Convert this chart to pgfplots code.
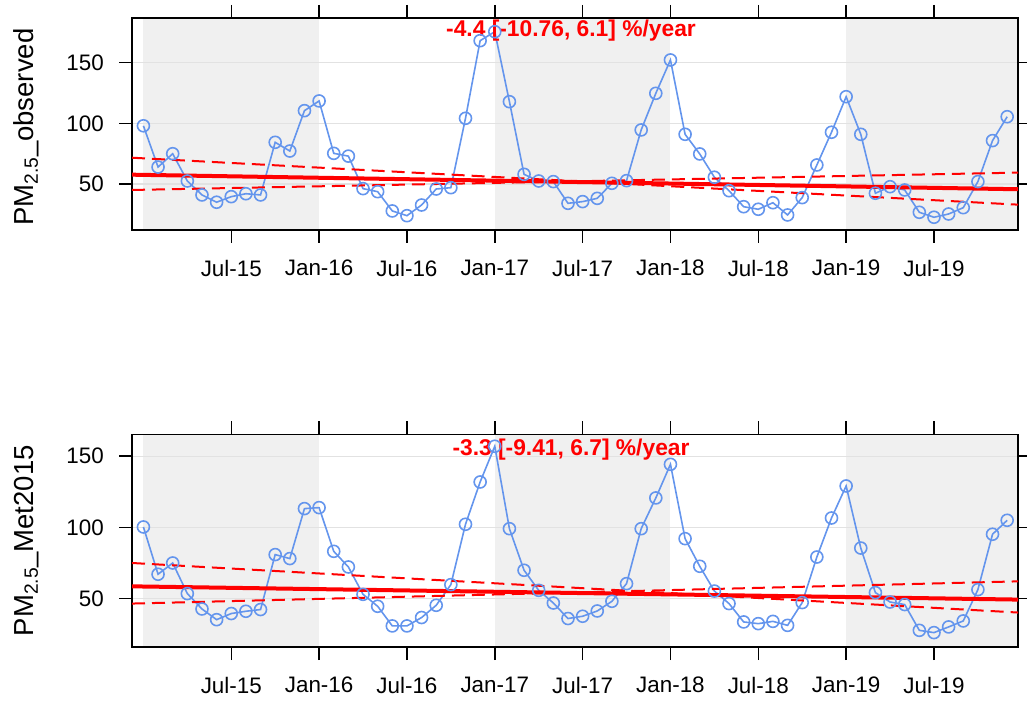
\documentclass[border=0pt]{standalone}
\usepackage{fontspec}
\setmainfont{Liberation Sans}
\usepackage{pgfplots}
\usepackage{pgfplotstable}
\pgfplotsset{compat=1.18}
\definecolor{obs}{HTML}{6495ED}
\definecolor{shade}{RGB}{240,240,240}
\definecolor{gridc}{RGB}{226,226,226}

\pgfplotstableread{
idx obs met
0 98 100.3
1 64 67.1
2 75 75
3 52.5 53.5
4 41 42.7
5 35 35.2
6 39.6 39.5
7 42 41.1
8 41 42.3
9 84.4 80.9
10 77.2 78.1
11 110.5 113.2
12 118.5 113.9
13 75.3 83.2
14 73 72.2
15 46.2 53
16 43.7 44.6
17 27.8 30.8
18 23.9 30.8
19 32.7 36.7
20 45.9 45.3
21 47 59.8
22 104.2 102.2
23 168.2 131.9
24 175.6 157
25 117.9 99.1
26 58 69.9
27 52.5 55.8
28 52 46.9
29 34.1 36
30 35.5 37.6
31 38.2 41.3
32 50.6 48.1
33 52.8 60.5
34 94.6 99.1
35 124.8 120.7
36 152.3 144.3
37 91 92.1
38 74.8 72.7
39 55.6 55.3
40 44.5 46.5
41 31.3 33.6
42 29.2 32.4
43 34.6 34
44 24.5 31.2
45 38.8 47.2
46 65.7 79.2
47 92.7 106.6
48 122 129.1
49 91 85.5
50 42.4 54.2
51 47.8 47.6
52 45.1 45.8
53 26.7 27.7
54 22.6 26.1
55 25.3 30.1
56 30.5 34.3
57 52 56.3
58 85.8 95.2
59 105.5 105
}\datatable

\pgfplotsset{
 panel/.style={
  set layers,
  scale only axis, width=886pt, anchor=south west,
  xmin=-0.78, xmax=59.74,
  xtick={6,12,...,54},
  xticklabels={Jul-15,Jan-16,Jul-16,Jan-17,Jul-17,Jan-18,Jul-18,Jan-19,Jul-19},
  ytick={50,100,150},
  tick align=outside, major tick length=13pt,
  xtick pos=both, ytick pos=both, xticklabel pos=lower, yticklabel pos=left,
  tick style={line width=1.5pt, black},
  axis line style={line width=1.5pt},
  ymajorgrids, grid style={gridc, line width=1.3pt},
  tick label style={font=\fontsize{22.4}{26}\selectfont, inner sep=0pt},
  /pgf/number format/assume math mode=true,
  yticklabel shift=15pt, xticklabel shift=17pt,
  every axis y label/.style={at={(rel axis cs:-0.1117,0.5)}, rotate=90, anchor=base,
     font=\fontsize{27.5}{30}\selectfont},
 },
 shadeplot/.style={draw=none, fill=shade, on layer=axis background, forget plot},
 dataplot/.style={obs, line width=1.6pt, mark=o, mark size=6pt, mark options={solid, line width=1.6pt}},
 trend/.style={red, line width=4pt},
 ci/.style={red, line width=2pt, dash pattern=on 13pt off 7pt},
}

\begin{document}
\begin{tikzpicture}

\begin{axis}[panel, at={(132pt,471pt)}, height=212pt, ymin=12.1, ymax=186.9,
  ylabel={PM\textsubscript{2.5}\_observed},
  every axis y label/.append style={at={(rel axis cs:-0.1117,0.486)}}]
\addplot[shadeplot] coordinates {(0,12.1) (12,12.1) (12,186.9) (0,186.9)};
\addplot[shadeplot] coordinates {(24,12.1) (36,12.1) (36,186.9) (24,186.9)};
\addplot[shadeplot] coordinates {(48,12.1) (59.74,12.1) (59.74,186.9) (48,186.9)};
\addplot[dataplot] table[x=idx, y=obs] {\datatable};
\addplot[trend] coordinates {(-0.78,57.7) (59.74,45.7)};
\addplot[ci] coordinates {(-0.78,71.7) (59.74,33.0)};
\addplot[ci] coordinates {(-0.78,45.1) (59.74,59.4)};
\node[text=red, font=\bfseries\fontsize{22.8}{25}\selectfont, anchor=base]
  at ([yshift=-18.7pt]rel axis cs:0.4955,1) {-4.4 [-10.76, 6.1] \%/year};
\end{axis}

\begin{axis}[panel, at={(132pt,54pt)}, height=212.5pt, ymin=16, ymax=165.25,
  ylabel={PM\textsubscript{2.5}\_Met2015}]
\addplot[shadeplot] coordinates {(0,16) (12,16) (12,165.25) (0,165.25)};
\addplot[shadeplot] coordinates {(24,16) (36,16) (36,165.25) (24,165.25)};
\addplot[shadeplot] coordinates {(48,16) (59.74,16) (59.74,165.25) (48,165.25)};
\addplot[dataplot] table[x=idx, y=met] {\datatable};
\addplot[trend] coordinates {(-0.78,58.6) (59.74,49.3)};
\addplot[ci] coordinates {(-0.78,75.0) (59.74,40.2)};
\addplot[ci] coordinates {(-0.78,46.5) (59.74,62.1)};
\node[text=red, font=\bfseries\fontsize{22.8}{25}\selectfont, anchor=base]
  at ([yshift=-20.7pt]rel axis cs:0.4955,1) {-3.3 [-9.41, 6.7] \%/year};
\end{axis}

\pgfresetboundingbox
\path[use as bounding box] (0,0) rectangle (1027pt,701pt);
\end{tikzpicture}
\end{document}
